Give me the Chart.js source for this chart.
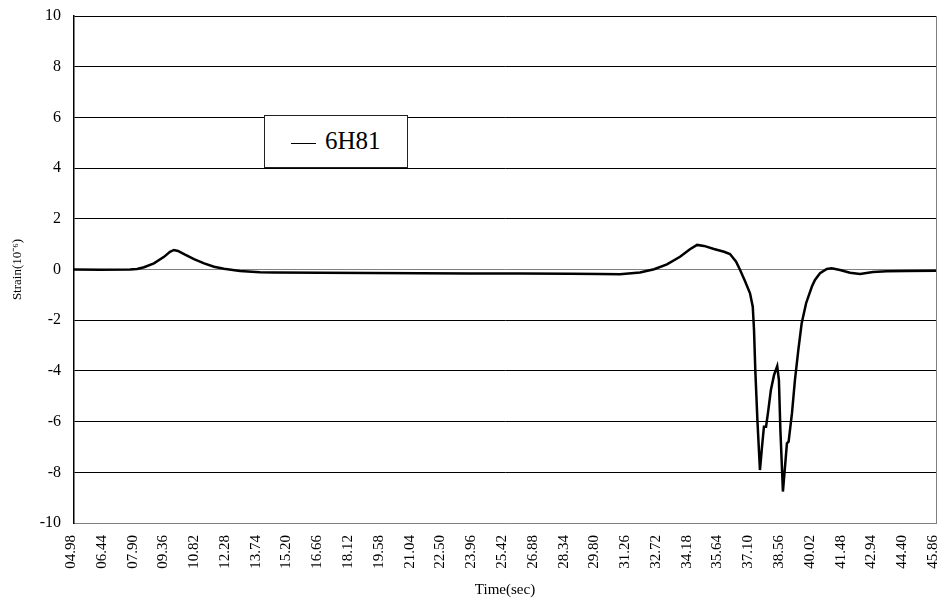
<!DOCTYPE html>
<html>
<head>
<meta charset="utf-8">
<script src="https://cdn.jsdelivr.net/npm/chart.js@4.4.1/dist/chart.umd.min.js"></script>
<style>
  html, body { margin: 0; padding: 0; background: #fff; }
  #wrap { position: relative; width: 938px; height: 603px; }
  #legend { position: absolute; left: 264px; top: 115px; width: 142px; height: 51px;
            border: 1px solid #222; background: #fff; box-sizing: content-box; }
  #legend .swatch { position: absolute; left: 26px; top: 27px; width: 25px; height: 0;
            border-top: 1.5px solid #000; }
  #legend .label { position: absolute; left: 60px; top: 10px; font-family: "Liberation Serif", serif;
            font-size: 25px; line-height: 30px; color: #000; }
</style>
</head>
<body>
<div id="wrap">
  <canvas id="c" width="938" height="603"></canvas>
  <div id="legend"><div class="swatch"></div><div class="label">6H81</div></div>
</div>
<script>
const seriesName = '6H81';
const xTickLabels = ['04.98','06.44','07.90','09.36','10.82','12.28','13.74','15.20','16.66','18.12',
  '19.58','21.04','22.50','23.96','25.42','26.88','28.34','29.80','31.26','32.72','34.18','35.64',
  '37.10','38.56','40.02','41.48','42.94','44.40','45.86'];
const yTickValues = [-10,-8,-6,-4,-2,0,2,4,6,8,10];

const timeSec = [4.98, 6.21, 7.64, 7.97, 8.30, 8.77, 9.25, 9.53, 9.72, 9.91, 10.20, 10.67, 11.15,
  11.62, 12.09, 12.85, 13.80, 14.47, 16.65, 19.02, 21.39, 23.76, 26.13, 28.50, 29.92, 30.87,
  31.82, 32.49, 33.10, 33.72, 34.19, 34.53, 34.86, 35.33, 35.81, 36.09, 36.38, 36.57, 36.80,
  37.04, 37.17, 37.23, 37.29, 37.39, 37.51, 37.61, 37.70, 37.80, 37.91, 38.03, 38.18, 38.33,
  38.41, 38.48, 38.60, 38.70, 38.79, 38.87, 39.03, 39.17, 39.33, 39.49, 39.70, 39.97, 40.12,
  40.36, 40.68, 40.91, 41.31, 41.78, 42.26, 42.87, 43.52, 44.47, 45.86];
const strain = [0.00, -0.01, 0.00, 0.02, 0.09, 0.24, 0.50, 0.70, 0.77, 0.73, 0.61, 0.41, 0.24,
  0.11, 0.03, -0.06, -0.11, -0.12, -0.13, -0.14, -0.15, -0.16, -0.16, -0.17, -0.18, -0.19,
  -0.12, 0.01, 0.20, 0.50, 0.80, 0.97, 0.93, 0.81, 0.70, 0.61, 0.31, -0.02, -0.45,
  -0.94, -1.47, -2.39, -3.96, -5.94, -7.91, -6.99, -6.20, -6.20, -5.54, -4.75, -4.16, -3.81,
  -4.36, -6.33, -8.76, -7.78, -6.86, -6.79, -5.67, -4.36, -3.18, -2.12, -1.33, -0.68, -0.41,
  -0.15, 0.02, 0.05, -0.02, -0.13, -0.18, -0.10, -0.07, -0.06, -0.05];

const points = timeSec.map((t, i) => ({ x: t, y: strain[i] }));
const xTickValues = xTickLabels.map(s => parseFloat(s));
const FONT = '"Liberation Serif", "Times New Roman", serif';

new Chart(document.getElementById('c'), {
  type: 'line',
  data: { datasets: [{ label: seriesName, data: points, borderColor: '#000', borderWidth: 2.5,
    pointRadius: 0, tension: 0, fill: false }] },
  options: {
    responsive: false, animation: false, devicePixelRatio: 1,
    layout: { padding: { top: 16, right: 2, left: 0, bottom: 0 } },
    plugins: { legend: { display: false }, tooltip: { enabled: false } },
    scales: {
      x: {
        type: 'linear', min: xTickValues[0], max: xTickValues[xTickValues.length - 1],
        afterBuildTicks: s => { s.ticks = xTickValues.map(v => ({ value: v })); },
        afterFit: s => { s.height = 80; s.paddingLeft = 0; s.paddingRight = 0; },
        ticks: { autoSkip: false, minRotation: 90, maxRotation: 90, padding: 12, color: '#000',
          labelOffset: -3,
          font: { family: FONT, size: 15 },
          callback: (v, i) => xTickLabels[i] },
        grid: { drawTicks: false, lineWidth: 1,
          color: c => (c.index === xTickValues.length - 1 ? '#808080' : 'rgba(0,0,0,0)') },
        border: { display: true, color: '#808080', width: 1 },
        title: { display: true, text: 'Time(sec)', color: '#000', font: { family: FONT, size: 15 },
          padding: { top: 0, bottom: 4 } }
      },
      y: {
        type: 'linear', min: -10, max: 10,
        afterBuildTicks: s => { s.ticks = yTickValues.map(v => ({ value: v })); },
        afterFit: s => { s.width = 74; s.paddingTop = 0; s.paddingBottom = 0; },
        ticks: { padding: 13, color: '#000', font: { family: FONT, size: 16 } },
        grid: { drawTicks: false, lineWidth: 1,
          color: c => (c.tick && (c.tick.value === 0 || c.tick.value === -10) ? '#808080' : '#000') },
        border: { display: true, color: '#000', width: 1.5 },
        title: { display: true, text: 'Strain(10\u207B\u2076)', color: '#000', font: { family: FONT, size: 13 },
          padding: { top: 10, bottom: 0 } }
      }
    }
  }
});
</script>
</body>
</html>
